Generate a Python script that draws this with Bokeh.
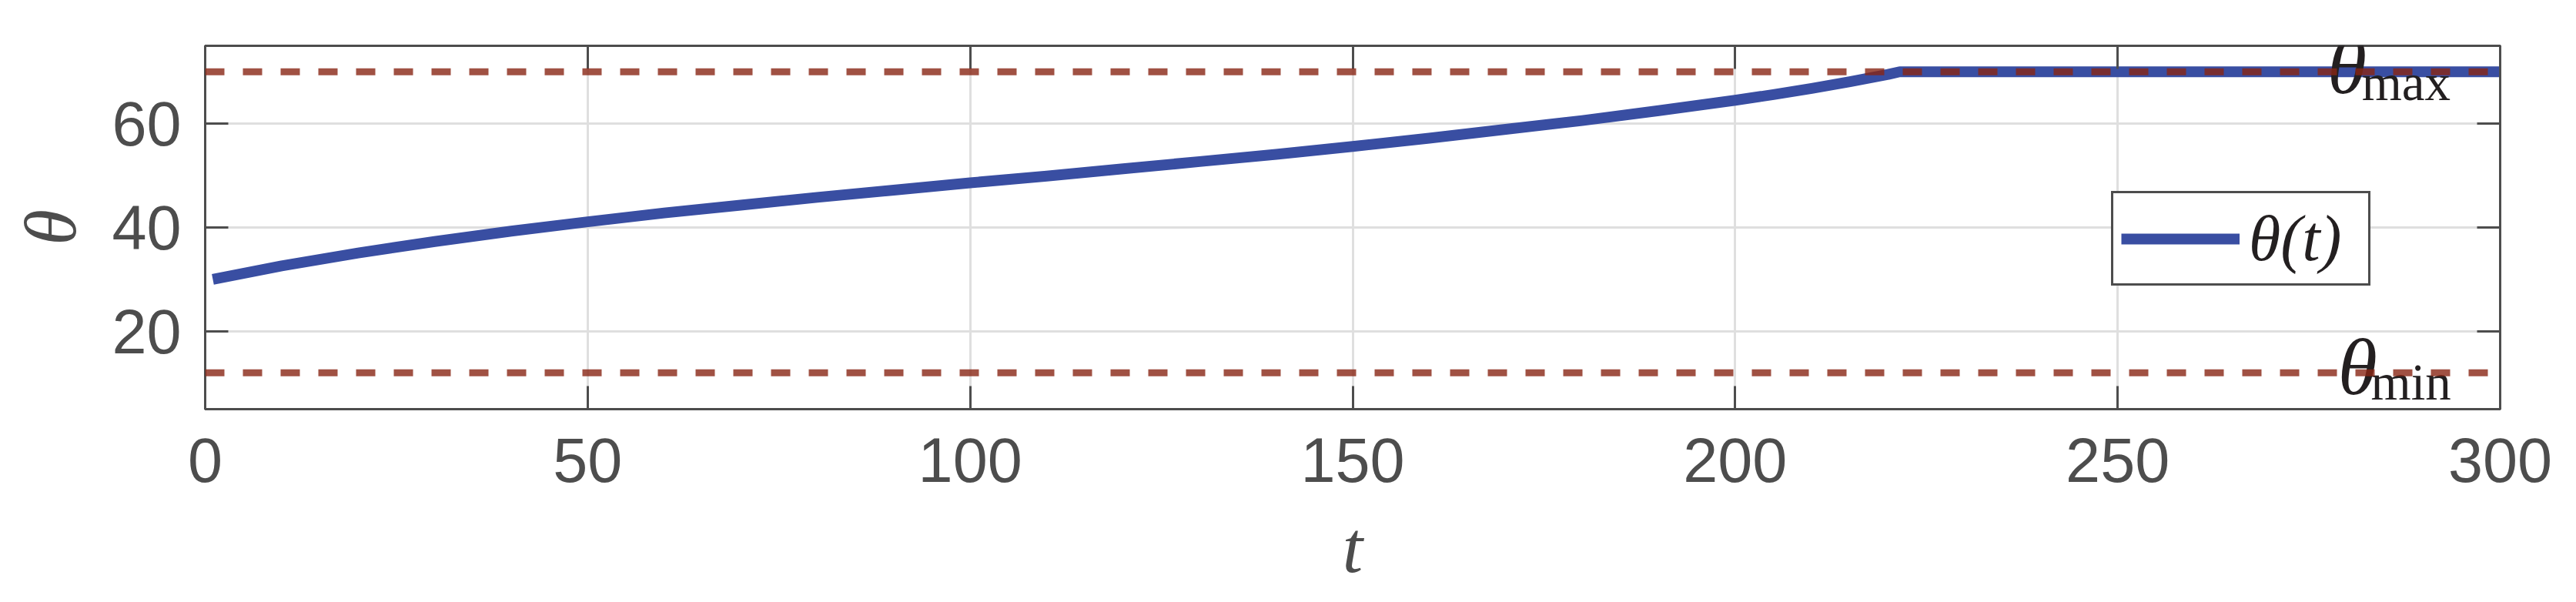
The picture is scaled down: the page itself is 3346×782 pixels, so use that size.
from bokeh.plotting import figure
from bokeh.models import Span, Legend, LegendItem, LinearAxis, FixedTicker, Range1d, Label
from bokeh.embed import file_html
from bokeh.resources import INLINE

# ---- data ----
T = [1, 10, 20, 30, 40, 50, 60, 70, 80, 90, 100, 110, 120, 130, 140, 150,
     160, 170, 180, 190, 200, 205, 210, 215, 220, 221.5, 300]
THETA = [30.0, 32.6, 35.1, 37.3, 39.3, 41.1, 42.8, 44.3, 45.8, 47.2, 48.6,
         49.9, 51.3, 52.7, 54.1, 55.6, 57.2, 58.9, 60.6, 62.5, 64.5, 65.6,
         66.8, 68.1, 69.5, 70.0, 70.0]
THETA_MAX = 70
THETA_MIN = 12
X_TICKS = [0, 50, 100, 150, 200, 250, 300]
Y_TICKS = [20, 40, 60]
X_RANGE = (0, 300)
Y_RANGE = (5, 75)
SERIES_LABEL = "θ(t)"

AX = "#4d4d4d"
BLUE = "#394ea2"
RED = "#882614"
INK = "#231f20"

p = figure(width=3330, height=766, output_backend="svg", toolbar_location=None,
           x_range=Range1d(*X_RANGE), y_range=Range1d(*Y_RANGE),
           min_border_left=266, min_border_right=83, min_border_top=59,
           min_border_bottom=224)
p.outline_line_color = AX
p.outline_line_width = 3
p.background_fill_color = "white"

def style_axis(ax, ticks, show_labels=True):
    ax.ticker = FixedTicker(ticks=ticks)
    ax.axis_line_color = AX
    ax.axis_line_width = 3
    ax.major_tick_in = 30
    ax.major_tick_out = 0
    ax.major_tick_line_color = AX
    ax.major_tick_line_width = 3
    ax.minor_tick_in = 0
    ax.minor_tick_out = 0
    ax.minor_tick_line_color = None
    ax.major_label_text_font = "Liberation Sans"
    if show_labels:
        ax.major_label_text_color = AX
        ax.major_label_text_font_size = "81px"
    else:
        ax.major_label_text_color = None
        ax.major_label_text_font_size = "1px"
        ax.major_label_standoff = 0

style_axis(p.xaxis[0], X_TICKS)
style_axis(p.yaxis[0], Y_TICKS)
p.xaxis.major_label_standoff = 37
p.yaxis.major_label_standoff = 31

p.xaxis.axis_label = "t"
p.yaxis.axis_label = "θ"
for ax in (p.xaxis[0], p.yaxis[0]):
    ax.axis_label_text_font = "Liberation Serif"
    ax.axis_label_text_font_style = "italic"
    ax.axis_label_text_font_size = "95px"
    ax.axis_label_text_color = AX
p.xaxis.axis_label_standoff = 29
p.yaxis.axis_label_standoff = 23

top = LinearAxis()
style_axis(top, X_TICKS, show_labels=False)
p.add_layout(top, "above")
right = LinearAxis()
style_axis(right, Y_TICKS, show_labels=False)
p.add_layout(right, "right")

p.xgrid.ticker = FixedTicker(ticks=X_TICKS)
p.ygrid.ticker = FixedTicker(ticks=Y_TICKS)
p.grid.grid_line_color = "#dfdfdf"
p.grid.grid_line_width = 3

r = p.line(T, THETA, line_color=BLUE, line_width=14, line_join="round")

# annotations theta_max / theta_min (unclipped, drawn before the dashed limits)
for base, dy_big, dy_sub, x_big, x_sub, sub in (
        (THETA_MAX, 1.1, -2.0, 277.4, 281.9, "max"),
        (THETA_MIN, 1.1, -1.7, 278.8, 283.1, "min")):
    p.add_layout(Label(x=x_big, y=base + dy_big, x_units="data", y_units="data",
                       text="θ", text_font="Liberation Serif", text_font_style="italic",
                       text_font_size="104px", text_color=INK,
                       text_baseline="alphabetic", text_align="left"))
    p.add_layout(Label(x=x_sub, y=base + dy_sub, x_units="data", y_units="data",
                       text=sub, text_font="Liberation Serif",
                       text_font_size="67px", text_color=INK,
                       text_baseline="alphabetic", text_align="left"))

for loc in (THETA_MAX, THETA_MIN):
    p.add_layout(Span(location=loc, dimension="width", line_color=RED,
                      line_alpha=0.8, line_width=9, line_dash="25 24"))

legend = Legend(items=[LegendItem(label=SERIES_LABEL, renderers=[r])],
                location=(2476, 160))
legend.border_line_color = AX
legend.border_line_width = 3
legend.border_line_alpha = 1
legend.background_fill_color = "white"
legend.background_fill_alpha = 1
legend.padding = 10
legend.margin = 0
legend.spacing = 0
legend.glyph_width = 154
legend.glyph_height = 40
legend.label_standoff = 12
legend.label_width = 145
legend.label_text_font = "Liberation Serif"
legend.label_text_font_style = "italic"
legend.label_text_font_size = "84px"
legend.label_text_color = INK
legend.label_text_baseline = "middle"
p.add_layout(legend)

open("out.html", "w").write(file_html(p, INLINE))
